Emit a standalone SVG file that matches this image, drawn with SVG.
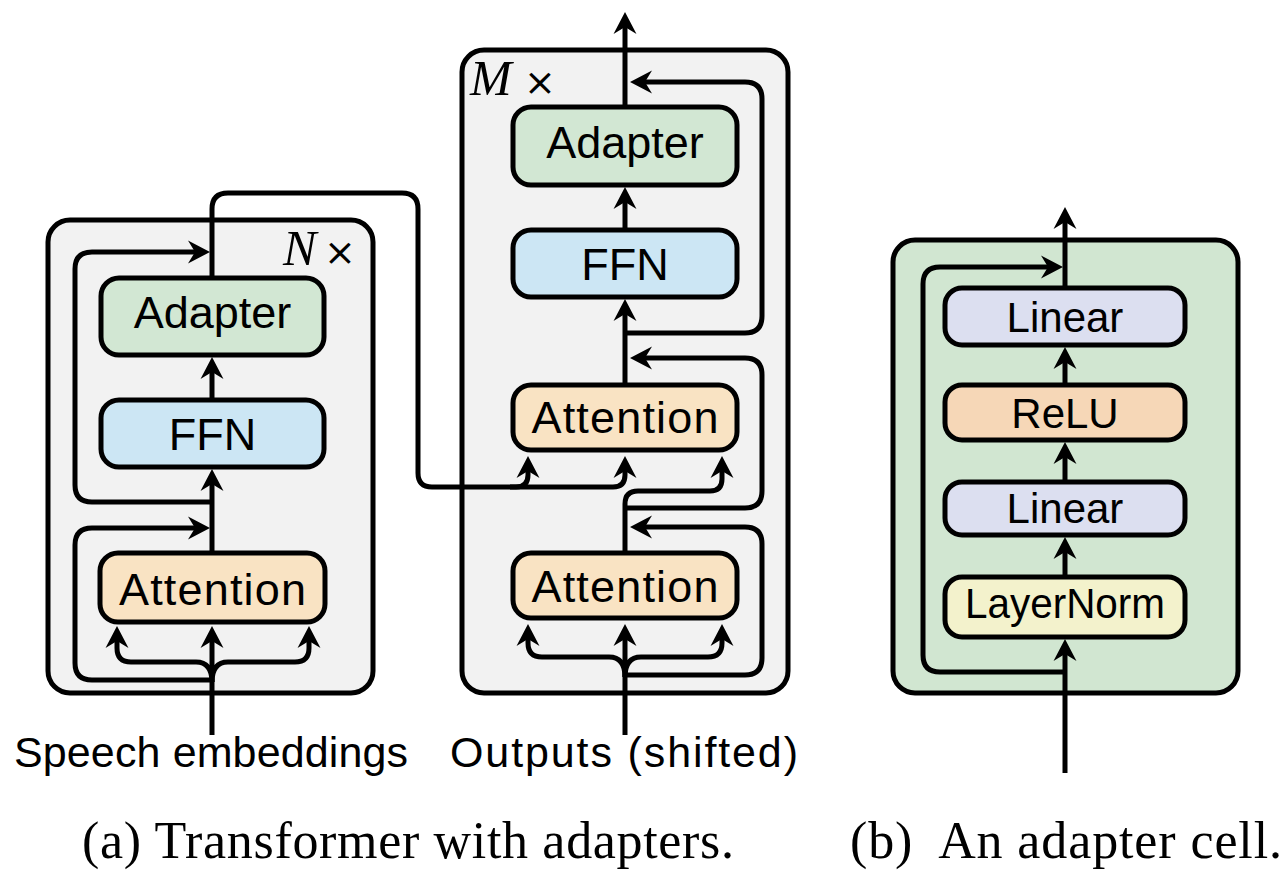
<svg xmlns="http://www.w3.org/2000/svg" width="1288" height="884" viewBox="0 0 1288 884">
<style>
.cont{fill:#f2f2f2;stroke:#000;stroke-width:5}
.node{stroke:#000;stroke-width:5}
.adapter{fill:#d2e7d3}
.ffn{fill:#cce6f4}
.attn{fill:#f9e3c3}
.linear{fill:#dcdff0}
.relu{fill:#f6d7b7}
.ln{fill:#f3f2cc}
.lbl{font-family:"Liberation Sans","DejaVu Sans",sans-serif;fill:#000;text-anchor:middle}
.cap{font-family:"Liberation Serif","Times New Roman",serif;fill:#000;font-size:52px}
.conn path{fill:none;stroke:#000;stroke-width:5}
.conn path.a{marker-end:url(#arr)}
</style>
<defs>
<marker id="arr" markerUnits="userSpaceOnUse" viewBox="-16 -13 26 26" markerWidth="26" markerHeight="26" refX="0" refY="0" orient="auto">
<path d="M8,0 L-14,-11.5 L-7,0 L-14,11.5 Z" fill="#000"/>
</marker>
</defs>
<rect width="1288" height="884" fill="#fff"/>

<g id="encoder">
<rect class="cont" x="48" y="220" width="325" height="473" rx="22"/>
<text x="283" y="265" font-family="Liberation Serif,serif" font-size="50" font-style="italic">N</text>
<text x="324" y="265" font-family="DejaVu Sans,sans-serif" font-size="38">×</text>
</g>
<g id="decoder">
<rect class="cont" x="462" y="50" width="326" height="643" rx="22"/>
<text x="470" y="95" font-family="Liberation Serif,serif" font-size="50" font-style="italic">M</text>
<text x="524" y="95" font-family="DejaVu Sans,sans-serif" font-size="38">×</text>
</g>
<g id="adapter-cell">
<rect x="893" y="240" width="345" height="453" rx="22" fill="#d1e6d1" stroke="#000" stroke-width="5"/>
</g>

<g id="connectors" class="conn">
<!-- encoder -->
<path class="a" d="M212,735 L212,634"/>
<path class="a" d="M212,682 Q212,662 196,662 L131,662 Q117,662 117,648 L117,634"/>
<path class="a" d="M212,682 Q212,662 228,662 L295,662 Q309,662 309,648 L309,634"/>
<path class="a" d="M212,680 L92,680 Q75,680 75,663 L75,545 Q75,528 92,528 L202,528"/>
<path class="a" d="M212,553 L212,477"/>
<path class="a" d="M212,502 L92,502 Q75,502 75,485 L75,269 Q75,252 92,252 L202,252"/>
<path class="a" d="M212,400 L212,365"/>
<path class="a" d="M212,278 L212,209 Q212,193 228,193 L402,193 Q418,193 418,209 L418,473 Q418,487 432,487 L516,487 Q528,487 528,475 L528,464"/>
<path class="a" d="M510,487 L613,487 Q625,487 625,475 L625,464"/>
<!-- decoder -->
<path class="a" d="M625,735 L625,632"/>
<path class="a" d="M625,677 Q625,657 609,657 L542,657 Q528,657 528,643 L528,632"/>
<path class="a" d="M625,677 Q625,657 641,657 L708,657 Q722,657 722,643 L722,632"/>
<path class="a" d="M625,675 L745,675 Q762,675 762,658 L762,544 Q762,527 745,527 L638,527"/>
<path class="a" d="M625,553 L625,504 Q625,491 638,491 L710,491 Q722,491 722,479 L722,464"/>
<path class="a" d="M625,508 L745,508 Q762,508 762,491 L762,375 Q762,358 745,358 L638,358"/>
<path class="a" d="M625,385 L625,307"/>
<path class="a" d="M625,333 L745,333 Q762,333 762,316 L762,99 Q762,82 745,82 L638,82"/>
<path class="a" d="M625,230 L625,195"/>
<path class="a" d="M625,107 L625,20"/>
<!-- adapter cell -->
<path class="a" d="M1065,773 L1065,647"/>
<path class="a" d="M1065,672 L940,672 Q923,672 923,655 L923,284 Q923,267 940,267 L1055,267"/>
<path class="a" d="M1065,577 L1065,545"/>
<path class="a" d="M1065,482 L1065,450"/>
<path class="a" d="M1065,385 L1065,355"/>
<path class="a" d="M1065,288 L1065,215"/>
</g>

<g id="enc-adapter"><rect class="node adapter" x="101" y="278" width="223" height="77" rx="18"/><text class="lbl" x="212.5" y="328" font-size="45">Adapter</text></g>
<g id="enc-ffn"><rect class="node ffn" x="101" y="400" width="223" height="67" rx="18"/><text class="lbl" x="212.5" y="450" font-size="45">FFN</text></g>
<g id="enc-attn"><rect class="node attn" x="100" y="553" width="225" height="69" rx="18"/><text class="lbl" x="212.5" y="605" font-size="45" textLength="187" lengthAdjust="spacing">Attention</text></g>

<g id="dec-adapter"><rect class="node adapter" x="513" y="107" width="224" height="78" rx="18"/><text class="lbl" x="625" y="158" font-size="45">Adapter</text></g>
<g id="dec-ffn"><rect class="node ffn" x="513" y="230" width="224" height="67" rx="18"/><text class="lbl" x="625" y="280" font-size="45">FFN</text></g>
<g id="dec-attn2"><rect class="node attn" x="513" y="385" width="224" height="65" rx="18"/><text class="lbl" x="625" y="433" font-size="45" textLength="187" lengthAdjust="spacing">Attention</text></g>
<g id="dec-attn1"><rect class="node attn" x="513" y="553" width="224" height="65" rx="18"/><text class="lbl" x="625" y="602" font-size="45" textLength="187" lengthAdjust="spacing">Attention</text></g>

<g id="cell-linear2"><rect class="node linear" x="945" y="288" width="240" height="57" rx="17"/><text class="lbl" x="1065" y="332" font-size="42">Linear</text></g>
<g id="cell-relu"><rect class="node relu" x="945" y="385" width="240" height="55" rx="17"/><text class="lbl" x="1065" y="428" font-size="42">ReLU</text></g>
<g id="cell-linear1"><rect class="node linear" x="945" y="482" width="240" height="53" rx="17"/><text class="lbl" x="1065" y="523" font-size="42">Linear</text></g>
<g id="cell-layernorm"><rect class="node ln" x="945" y="577" width="240" height="60" rx="17"/><text class="lbl" x="1065" y="618" font-size="42" textLength="200" lengthAdjust="spacingAndGlyphs">LayerNorm</text></g>

<g id="labels">
<text x="14" y="767" font-family="Liberation Sans,DejaVu Sans,sans-serif" font-size="43" textLength="394" lengthAdjust="spacing">Speech embeddings</text>
<text x="450" y="767" font-family="Liberation Sans,DejaVu Sans,sans-serif" font-size="43" textLength="348" lengthAdjust="spacing">Outputs (shifted)</text>
<text class="cap" x="82" y="858" textLength="652" lengthAdjust="spacing">(a) Transformer with adapters.</text>
<text class="cap" x="850" y="858" textLength="432" lengthAdjust="spacing" xml:space="preserve">(b)  An adapter cell.</text>
</g>
</svg>
